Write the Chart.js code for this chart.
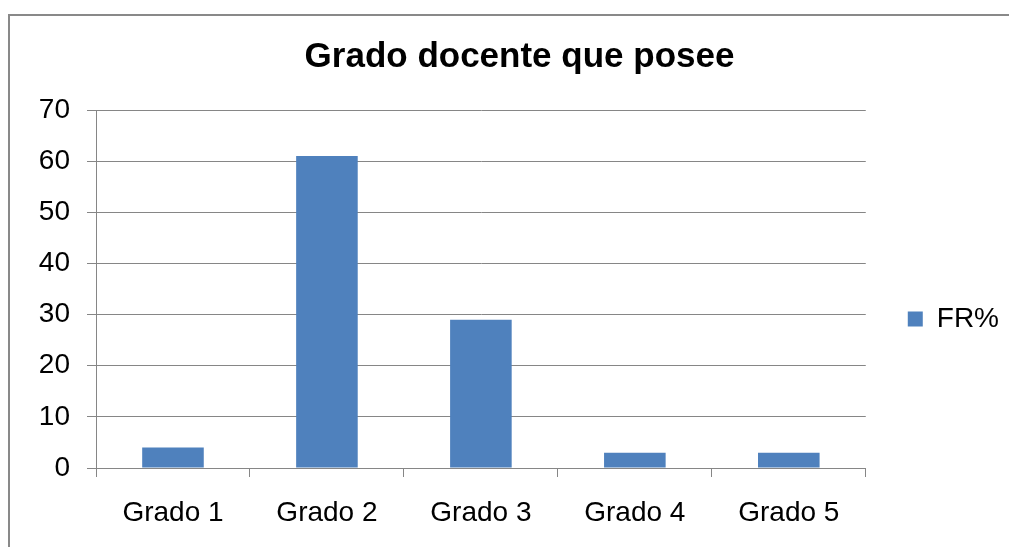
<!DOCTYPE html>
<html lang="es">
<head>
  <meta charset="UTF-8" />
  <title>Grado docente que posee</title>
  <script src="https://cdn.jsdelivr.net/npm/chart.js"></script>
<style>
  html, body { margin: 0; padding: 0; background: #fff; overflow: hidden; }
  .frame {
    position: absolute;
    left: 8px;
    top: 14px;
    width: 1040px;
    height: 606px;
    border-left: 2px solid #898989;
    border-top: 2px solid #898989;
  }
  .frame canvas { position: absolute; left: 0; top: 0; }
</style>
</head>
<body>
  <div class="frame">
    <canvas id="gradoChart" width="999" height="606"></canvas>
  </div>
  <script>
    // datos
    const categorias = ['Grado 1', 'Grado 2', 'Grado 3', 'Grado 4', 'Grado 5'];
    const frPorcentaje = [4, 61, 29, 3, 3];
    const serie = 'FR%';
    const titulo = 'Grado docente que posee';

    const gris = '#868686';
    const fuente = '"Liberation Sans", Arial, sans-serif';

    const ctx = document.getElementById('gradoChart');
    new Chart(ctx, {
      type: 'bar',
      data: {
        labels: categorias,
        datasets: [{
          label: serie,
          data: frPorcentaje,
          backgroundColor: '#4f81bd',
          borderWidth: 0,
          categoryPercentage: 1,
          barPercentage: 0.4
        }]
      },
      options: {
        responsive: false,
        animation: false,
        // el padding izquierdo solo sirve para centrar el titulo como en el original
        layout: { padding: { left: 20, right: 0, top: 0, bottom: 0 } },
        plugins: {
          title: {
            display: true,
            text: titulo,
            color: '#000',
            font: { family: fuente, size: 35, weight: 'bold' },
            padding: { top: 20, bottom: 32 }
          },
          legend: {
            position: 'right',
            labels: {
              color: '#000',
              font: { family: fuente, size: 28 },
              boxWidth: 15,
              boxHeight: 15,
              padding: 42
            }
          },
          tooltip: { enabled: false }
        },
        scales: {
          x: {
            afterFit: (scale) => { scale.height = 154; },
            grid: {
              offset: true,
              drawOnChartArea: false,
              drawTicks: true,
              tickLength: 9,
              color: gris
            },
            border: { display: true, color: gris, width: 1 },
            ticks: {
              color: '#000',
              font: { family: fuente, size: 28 },
              padding: 19
            }
          },
          y: {
            min: 0,
            max: 70,
            afterFit: (scale) => { scale.width = 66; },
            grid: {
              color: gris,
              lineWidth: 1,
              tickLength: 9
            },
            border: { display: true, color: gris, width: 1 },
            ticks: {
              stepSize: 10,
              color: '#000',
              font: { family: fuente, size: 28 },
              padding: 17
            }
          }
        }
      }
    });
  </script>
</body>
</html>
